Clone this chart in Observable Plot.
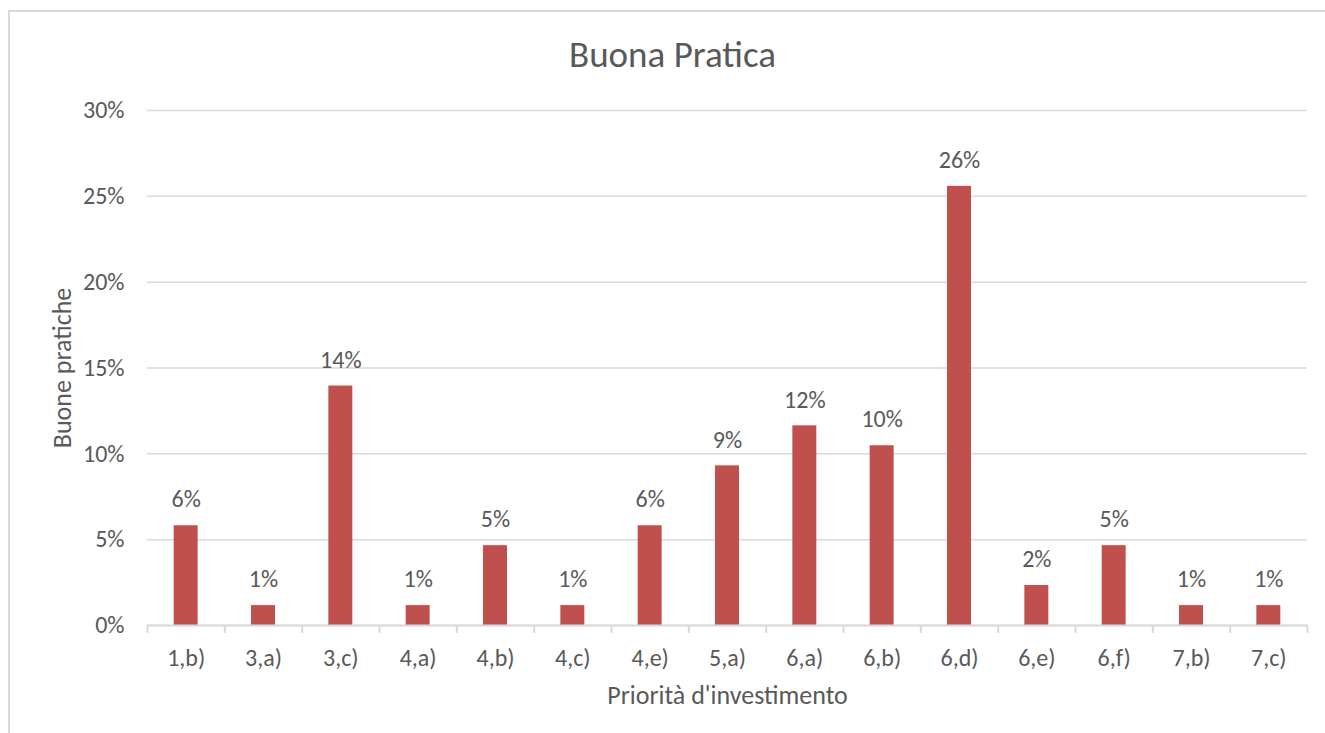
<!DOCTYPE html>
<html>
<head>
<meta charset="utf-8">
<script src="https://cdn.jsdelivr.net/npm/d3@7"></script>
<script src="https://cdn.jsdelivr.net/npm/@observablehq/plot@0.6"></script>
<style>
  html, body { margin: 0; padding: 0; background: #fff; overflow: hidden; }
  #wrap { position: relative; width: 1325px; height: 733px; overflow: hidden; }
  #frame { position: absolute; left: 8px; top: 10px; width: 1400px; height: 800px; border: 2px solid #d9d9d9; box-sizing: border-box; }
  #chart { position: absolute; left: 0; top: 0; }
</style>
</head>
<body>
<div id="wrap"><div id="frame"></div><div id="chart"></div></div>
<script>
const categories = ["1,b)", "3,a)", "3,c)", "4,a)", "4,b)", "4,c)", "4,e)", "5,a)", "6,a)", "6,b)", "6,d)", "6,e)", "6,f)", "7,b)", "7,c)"];
const percentValues = [5.81, 1.16, 13.95, 1.16, 4.65, 1.16, 5.81, 9.30, 11.63, 10.47, 25.58, 2.33, 4.65, 1.16, 1.16];
const yTicks = [0, 0.05, 0.10, 0.15, 0.20, 0.25, 0.30];
const titleText = "Buona Pratica";
const xLabel = "Priorità d'investimento";
const yLabel = "Buone pratiche";

const data = categories.map((c, i) => ({cat: c, value: percentValues[i] / 100}));

const W = 1325, H = 733;
const mL = 147, mR = 18, mT = 110, mB = 108;
const step = (W - mL - mR) / categories.length;
const textColor = "#595959";
const gridColor = "#d9d9d9";
const font = "Calibri, Carlito, Lato, 'Open Sans', sans-serif";
const fmt = d3.format(".0%");

const chart = Plot.plot({
  width: W,
  height: H,
  marginLeft: mL,
  marginRight: mR,
  marginTop: mT,
  marginBottom: mB,
  style: {fontFamily: font, color: textColor, background: "transparent", overflow: "visible"},
  x: {domain: categories, paddingInner: 0.69, paddingOuter: 0.345, round: false},
  y: {domain: [0, 0.30]},
  marks: [
    Plot.gridY(yTicks, {stroke: gridColor, strokeOpacity: 1, strokeWidth: 1.5}),
    Plot.axisY(yTicks, {tickSize: 0, tickPadding: 23, tickFormat: fmt, fontSize: 24, fill: textColor, label: null}),
    Plot.barY(data, {x: "cat", y: "value", fill: "#C0504D"}),
    Plot.ruleY([0], {stroke: gridColor, strokeWidth: 2}),
    Plot.axisX({tickSize: 8, tickFormat: null, stroke: gridColor, strokeWidth: 2, dx: -step / 2, label: null}),
    Plot.axisX([categories[categories.length - 1]], {tickSize: 8, tickFormat: null, stroke: gridColor, strokeWidth: 2, dx: step / 2, label: null}),
    Plot.axisX({tickSize: 0, tickPadding: 23, fontSize: 24, fill: textColor, label: null}),
    Plot.text(data, {x: "cat", y: "value", text: d => fmt(d.value), dy: -26, fontSize: 24, fill: textColor}),
    Plot.text([titleText], {frameAnchor: "top", lineAnchor: "middle", dx: -55, dy: -55, fontSize: 37, fill: textColor}),
    Plot.text([xLabel], {frameAnchor: "bottom", lineAnchor: "middle", dy: 70, fontSize: 26, fill: textColor}),
    Plot.text([yLabel], {frameAnchor: "left", textAnchor: "middle", lineAnchor: "middle", dx: -85, rotate: -90, fontSize: 26, fill: textColor})
  ]
});
document.getElementById("chart").appendChild(chart);
</script>
</body>
</html>
